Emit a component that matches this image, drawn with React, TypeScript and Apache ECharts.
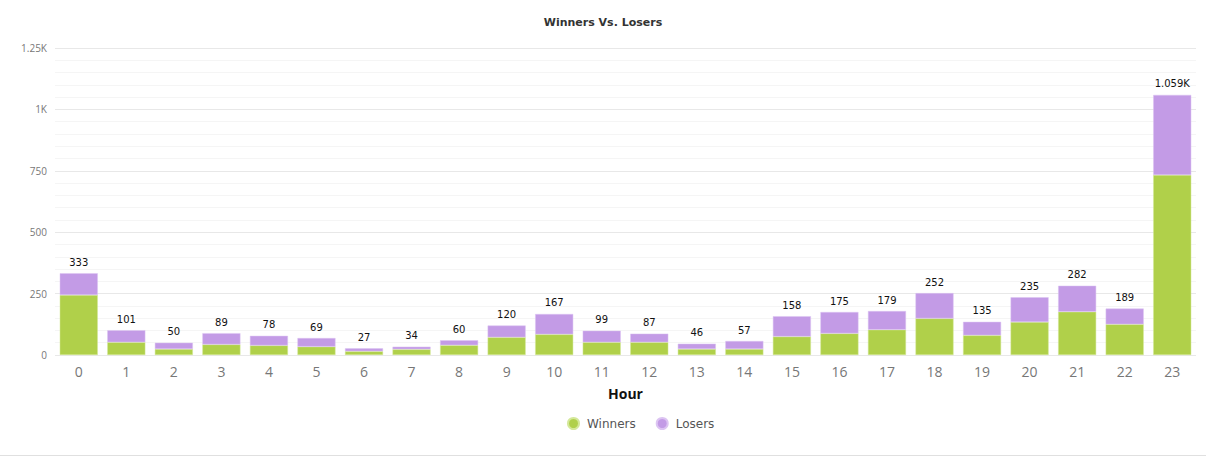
import React, { useEffect, useRef } from "react";
import * as echarts from "echarts";

const hours = ["0","1","2","3","4","5","6","7","8","9","10","11","12","13","14","15","16","17","18","19","20","21","22","23"];
const totals = [333,101,50,89,78,69,27,34,60,120,167,99,87,46,57,158,175,179,252,135,235,282,189,1059];
const winners = [244,52,24,43,39,34,15,23,40,72,84,52,52,24,24,75,88,103,149,80,134,176,125,733];
const losers = totals.map((t, i) => t - winners[i]);

const fmtK = (v: number) => (v >= 1000 ? `${+(v / 1000).toFixed(3)}K` : `${v}`);

export default function App() {
  const ref = useRef<HTMLDivElement>(null);
  useEffect(() => {
    document.body.style.margin = "0";
    const chart = echarts.init(ref.current!, undefined, { renderer: "svg" });
    chart.setOption({
      animation: false,
      textStyle: { fontFamily: "'Open Sans', 'DejaVu Sans', sans-serif" },
      title: {
        text: "Winners Vs. Losers",
        left: "center",
        top: 12,
        textStyle: { fontSize: 11, fontWeight: "bold", color: "#333", fontFamily: "'DejaVu Sans', sans-serif" },
      },
      legend: {
        top: 412,
        left: 562,
        icon: "circle",
        itemWidth: 11,
        itemHeight: 11,
        itemGap: 20,
        textStyle: { color: "#555", fontSize: 12, padding: [0, 0, 0, 3], fontFamily: "'DejaVu Sans', sans-serif" },
        data: ["Winners", "Losers"],
      },
      grid: { left: 55, right: 10, top: 48, bottom: 102 },
      xAxis: {
        type: "category",
        data: hours,
        axisLine: { show: false },
        axisTick: { show: false },
        axisLabel: { color: "#777", fontSize: 14, margin: 9 },
        name: "Hour",
        nameLocation: "middle",
        nameGap: 31,
        nameTextStyle: { color: "#111", fontSize: 14, fontWeight: "bold" },
      },
      yAxis: {
        type: "value",
        min: 0,
        max: 1250,
        interval: 250,
        axisLabel: { color: "#777", fontSize: 10, formatter: (v: number) => fmtK(v) },
        splitLine: { lineStyle: { color: "#e8e8e8" } },
        minorTick: { show: false, splitNumber: 5 },
        minorSplitLine: { show: true, lineStyle: { color: "#f5f5f5" } },
      },
      series: [
        {
          name: "Winners",
          type: "bar",
          stack: "t",
          barCategoryGap: "20%",
          data: winners,
          itemStyle: { color: "#b0d04a", borderColor: "#d4e89a", borderWidth: 0.5 },
        },
        {
          name: "Losers",
          type: "bar",
          stack: "t",
          data: losers,
          itemStyle: { color: "#c39be6", borderColor: "#dcc4f2", borderWidth: 0.5 },
          label: {
            show: true,
            position: "top",
            distance: 6,
            color: "#111",
            fontSize: 10,
            fontFamily: "'DejaVu Sans', sans-serif",
            formatter: (p: any) => fmtK(totals[p.dataIndex]),
          },
        },
      ],
      graphic: [
        { type: "line", shape: { x1: 0, y1: 455.5, x2: 1206, y2: 455.5 }, style: { stroke: "#e0e0e0", lineWidth: 1 } },
      ],
    });
    return () => chart.dispose();
  }, []);
  return <div ref={ref} style={{ width: 1206, height: 457 }} />;
}
